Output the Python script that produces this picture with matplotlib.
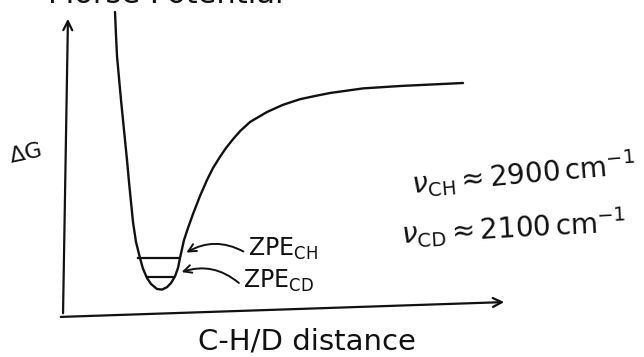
import numpy as np
import matplotlib.pyplot as plt

# potential energy curve (distance, energy) in arbitrary units
dist = [1.2, 1.225, 1.25, 1.3, 1.35, 1.4, 1.45, 1.5, 1.55, 1.6, 1.65, 1.725,
        1.825, 1.9, 2.0, 2.1, 2.25, 2.375, 2.5, 2.6, 2.7, 2.775, 2.825,
        2.925, 3.025, 3.15, 3.325, 3.5, 3.65, 3.825, 3.975, 4.15, 4.325,
        4.575, 5.0, 5.4, 5.825, 6.2, 6.575, 7.4, 8.325, 9.9]
energy = [7.6, 7.025, 6.5, 5.95, 5.4, 4.9, 4.4, 3.9, 3.35, 2.85, 2.35, 1.85,
          1.45, 1.18, 0.95, 0.8, 0.675, 0.66, 0.72, 0.825, 0.99, 1.2, 1.45,
          1.9, 2.2, 2.55, 3.0, 3.4, 3.7, 3.98, 4.2, 4.42, 4.62,
          4.85, 5.1, 5.28, 5.42, 5.5, 5.575, 5.69, 5.75, 5.825]

# zero point energy levels
zpe_names = ['CH', 'CD']
zpe_levels = [1.45, 0.975]
zpe_widths = [[1.775, 2.775], [2.0, 2.65]]

# stretching frequencies (cm^-1)
freq_names = ['CH', 'CD']
freq_values = [2900, 2100]

fig = plt.figure(figsize=(6.44, 3.57), dpi=100)
ax = fig.add_axes([0, 0, 1, 1])
ax.set_xlim(-1.675, 14.425)
ax.set_ylim(-1.025, 7.9)
ax.axis('off')

ink = '#111111'

# axes drawn by hand as arrows
ax.annotate('', xy=(0.025, 7.5), xytext=(-0.1, 0.0),
            arrowprops=dict(arrowstyle='->', lw=1.6, color=ink,
                            mutation_scale=16))
ax.annotate('', xy=(11.0, 0.35), xytext=(-0.225, -0.025),
            arrowprops=dict(arrowstyle='->', lw=1.6, color=ink,
                            mutation_scale=16))

ax.plot(dist, energy, color=ink, lw=1.7, solid_capstyle='round',
        solid_joinstyle='round')

for lvl, (x0, x1) in zip(zpe_levels, zpe_widths):
    ax.plot([x0, x1], [lvl, lvl], color=ink, lw=1.6)

# labelled arrows pointing at the levels
label_pos = [(4.52, 1.68), (4.4, 0.88)]
for name, lvl, (x0, x1), (lx, ly) in zip(zpe_names, zpe_levels, zpe_widths, label_pos):
    ax.annotate('', xy=(x1 + 0.15, lvl + 0.1), xytext=(lx - 0.05, ly - 0.1),
                arrowprops=dict(arrowstyle='->', lw=1.4, color=ink,
                                mutation_scale=14,
                                connectionstyle='arc3,rad=0.3'))
    ax.text(lx, ly, r'ZPE$_{\mathrm{%s}}$' % name, fontsize=17, color=ink,
            ha='left', va='center')

ax.text(-1.05, 4.05, r'$\Delta$G', fontsize=16, color=ink, rotation=12,
        ha='center', va='center')
ax.text(6.0, -0.65, 'C-H/D distance', fontsize=21, color=ink,
        ha='center', va='center')

freq_pos = [(14.25, 3.55, 5), (14.0, 2.2, 3)]
for name, val, (fx, fy, rot) in zip(freq_names, freq_values, freq_pos):
    ax.text(fx, fy, r'$\nu_{\mathrm{%s}} \approx %d\,\mathrm{cm}^{-1}$' % (name, val),
            fontsize=20, color=ink, ha='right', va='center', rotation=rot)

# title sits mostly above the top edge
fig.text(0.075, 1 - 3 / 357, 'Morse Potential', fontsize=22, color=ink,
         ha='left', va='baseline')

fig.savefig('out.png', dpi=100, facecolor='white')
